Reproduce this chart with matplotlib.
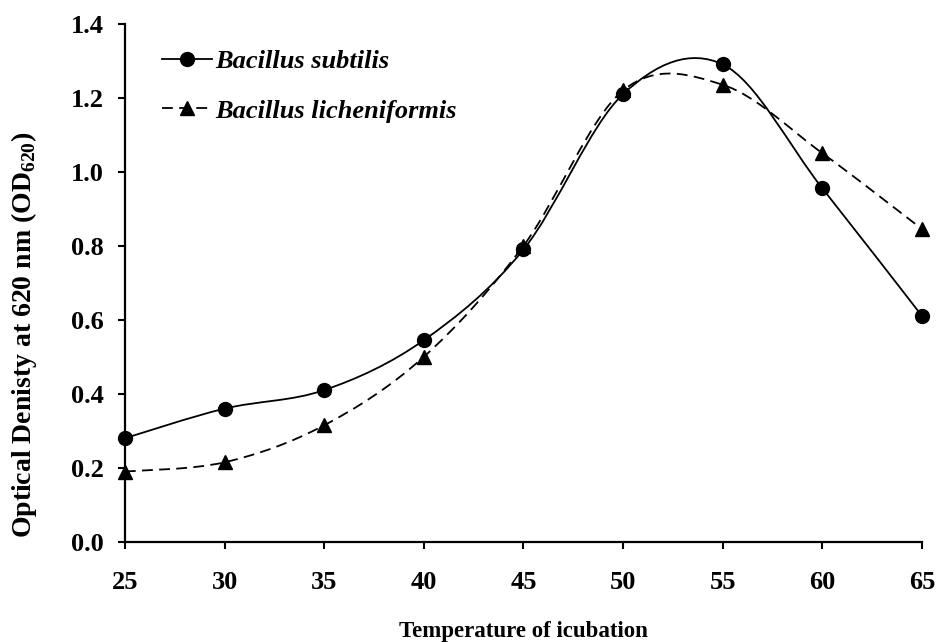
import numpy as np
import matplotlib
matplotlib.use("Agg")
import matplotlib.pyplot as plt
from matplotlib.path import Path
from matplotlib.patches import PathPatch
from matplotlib.lines import Line2D

plt.rcParams['font.family'] = ['Liberation Serif', 'DejaVu Serif']
plt.rcParams['font.weight'] = 'bold'
plt.rcParams['mathtext.fontset'] = 'custom'
plt.rcParams['mathtext.rm'] = 'Liberation Serif:bold'

temperature = [25, 30, 35, 40, 45, 50, 55, 60, 65]
subtilis = [0.28, 0.36, 0.41, 0.545, 0.79, 1.21, 1.29, 0.955, 0.61]
licheniformis = [0.19, 0.215, 0.315, 0.50, 0.80, 1.22, 1.235, 1.05, 0.845]


# Excel-style smoothed line: cubic Bezier through every point
def smooth_path(x, y):
    pts = np.column_stack([x, y]).astype(float)
    n = len(pts)
    verts = [pts[0]]
    codes = [Path.MOVETO]
    for i in range(n - 1):
        p0 = pts[max(i - 1, 0)]
        p1 = pts[i]
        p2 = pts[i + 1]
        p3 = pts[min(i + 2, n - 1)]
        c1 = p1 + (p2 - p0) / 6.0
        c2 = p2 - (p3 - p1) / 6.0
        verts += [c1, c2, p2]
        codes += [Path.CURVE4] * 3
    return Path(verts, codes)


fig = plt.figure(figsize=(9.39, 6.42), dpi=100)
ax = fig.add_axes([0.133, 0.156, 0.849, 0.807])

dash = (0, (6, 3.5))
ax.add_patch(PathPatch(smooth_path(temperature, subtilis), fill=False,
                       edgecolor='black', lw=1.3))
ax.add_patch(PathPatch(smooth_path(temperature, licheniformis), fill=False,
                       edgecolor='black', lw=1.3, linestyle=dash))
ax.plot(temperature, subtilis, 'o', color='black', ms=10, clip_on=False)
ax.plot(temperature, licheniformis, '^', color='black', ms=10, clip_on=False)

ax.set_xlim(25, 65)
ax.set_ylim(0, 1.4)
ax.set_xticks(range(25, 66, 5))
yt = np.arange(0, 1.41, 0.2)
ax.set_yticks(yt)
ax.set_yticklabels([f"{v:.1f}" for v in yt])

for s in ['top', 'right']:
    ax.spines[s].set_visible(False)
for s in ['left', 'bottom']:
    ax.spines[s].set_linewidth(1.6)
ax.tick_params(axis='both', direction='out', length=5, width=1.5,
               labelsize=19)
ax.tick_params(axis='y', pad=10)
ax.tick_params(axis='x', pad=16)

ax.set_xlabel('Temperature of icubation', fontsize=16.5, fontweight='bold')
ax.xaxis.set_label_coords(0.5, -0.152)
ax.set_ylabel('Optical Denisty at 620 nm (OD$_{620}$)', fontsize=20,
              fontweight='bold')
ax.yaxis.set_label_coords(-0.108, 0.40)

handles = [
    Line2D([], [], color='black', lw=1.3, marker='o', ms=10),
    Line2D([], [], color='black', lw=1.3, marker='^', ms=10, linestyle=dash),
]
ax.legend(handles, ['Bacillus subtilis', 'Bacillus licheniformis'],
          loc='upper left', bbox_to_anchor=(0.046, 0.950), frameon=False,
          borderpad=0, borderaxespad=0,
          prop={'family': 'Liberation Serif', 'style': 'italic',
                'weight': 'bold', 'size': 19},
          handlelength=1.9, handletextpad=0.15, labelspacing=0.99)

fig.savefig('out.png', dpi=100)
